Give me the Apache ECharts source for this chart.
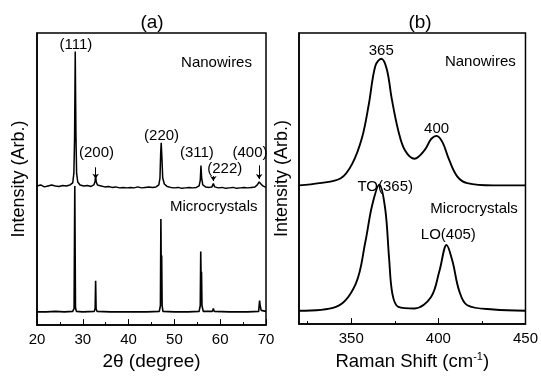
<!DOCTYPE html>
<html><head><meta charset="utf-8">
<script src="https://cdn.jsdelivr.net/npm/echarts@6/dist/echarts.min.js"></script>
<style>html,body{margin:0;padding:0;background:#fff}#c{width:541px;height:376px}</style>
</head><body><div id="c"></div>
<script>
// ---- Data (intensity in arbitrary units) ----
const xrdTicks = [20, 30, 40, 50, 60, 70];
const ramanTicks = [350, 400, 450];
const xrdNanowires = [
 [20,142],[20.8,143],[21.6,141],[22.4,142],[23.2,143],[24,142],[24.8,141.5],[25.6,142.5],[26.4,142],[27.2,143],
 [27.8,145],[28.05,155],[28.2,190],[28.35,279],[28.5,195],[28.65,155],[28.9,146],[29.4,143],[30.2,142],[31,142.5],
 [31.8,141.5],[32.4,143],[32.65,146],[32.8,151.7],[32.95,146],[33.2,143],[34,142],[34.8,141],[35.6,141.5],[36.4,140.5],
 [37.2,141],[38,140],[38.8,140.5],[39.6,140],[40.4,140.5],[41.2,140],[42,141],[42.8,140],[43.6,140.5],[44.4,141],
 [45.2,140.5],[46,141],[46.6,143],[46.85,150],[47.0,175],[47.12,186],[47.28,170],[47.45,150],[47.8,144],[48.4,141.5],
 [49.2,140.5],[50,140],[50.8,140.5],[51.6,139.5],[52.4,140],[53.2,140.5],[54,140],[54.8,140.5],[55.4,142],[55.65,148],
 [55.8,162.7],[55.95,150],[56.2,143],[56.8,141],[57.6,140.5],[58.2,141],[58.5,144.3],[58.8,141],[59.6,140],[60.4,140.5],
 [61.2,139.5],[62,140],[62.8,140.5],[63.6,139.5],[64.4,140],[65.2,140.5],[66,140],[66.8,140.5],[67.6,141],[68.1,143],
 [68.5,146],[68.9,145],[69.3,142],[70,140.5]
];
const xrdMicro = [
 [20,13.5],[22,13.5],[24,14],[26,13.5],[27.8,14],[28.1,17],[28.25,142],[28.4,18],[28.6,14],[30,13.5],
 [32.5,14],[32.7,17],[32.8,45.3],[32.9,17],[33.1,14],[36,13.5],[40,13.5],[44,13.5],[46.7,14],[46.95,20],
 [47.05,108.3],[47.15,40],[47.22,71],[47.32,20],[47.5,14],[50,13.5],[53,13.5],[55.4,14],[55.65,20],[55.75,75],
 [55.85,40],[55.92,54.3],[56.02,20],[56.3,14],[58.3,14],[58.5,17],[58.7,14],[62,13.5],[66,13.5],[68.4,14],
 [68.6,25],[68.72,20],[68.82,22],[68.95,15],[70,14]
];
const ramanNanowires = [
 [320,142],[331.7,144.3],[344,149.3],[350.6,164.3],[356.2,191],[360,224.3],[363.8,264.3],[367.2,271.7],[370.4,261],
 [373.2,231],[377,198],[380.8,178],[386.4,169.3],[392.1,178],[395.8,189.3],[399,192.7],[402.4,186],[406.2,168],
 [410.9,151],[416.6,144.3],[431.6,142],[450,142]
];
const ramanMicro = [
 [320,13.7],[341.2,17.7],[352.5,41],[358.1,84.3],[361.9,121],[366.1,142.7],[369.5,117.7],[371.7,67.7],[373.6,31],
 [377,17.7],[386.4,16],[395.8,27.7],[400.6,54.3],[404.7,81],[408.1,64.3],[411.9,34.3],[416.6,19.3],[431.7,15],[450,13.7]
];
const xrdPeakLabels = [[28.5,286,'(111)'],[33.0,176,'(200)'],[47.2,193,'(220)'],[54.9,176,'(311)'],[61.0,159,'(222)'],[66.5,176,'(400)']];
const xrdSampleLabels = [[59.2,268,'Nanowires'],[58.6,121,'Microcrystals']];
const xrdArrows = [[[32.8,161],[32.8,149.3]],[[58.5,152],[58.5,147]],[[68.5,163],[68.5,149]]];
const ramanPeakLabels = [[367.2,279.3,'365'],[399.0,200,'400'],[369.5,141,'TO(365)'],[405.7,91.7,'LO(405)']];
const ramanSampleLabels = [[424.1,268,'Nanowires'],[420.5,118,'Microcrystals']];

const FONT = 'Liberation Sans, Arial, Helvetica, sans-serif';
const chart = echarts.init(document.getElementById('c'), null, {renderer: 'canvas'});

function textSeries(data, xi, size) {
  return {
    type: 'scatter', xAxisIndex: xi, yAxisIndex: xi,
    data: data, symbolSize: 1, itemStyle: {color: 'rgba(0,0,0,0)'}, silent: true,
    label: {show: true, position: 'inside', formatter: p => p.data[2], color: '#000', opacity: 1,
            fontSize: size, fontFamily: FONT, textBorderWidth: 0},
    emphasis: {disabled: true}, z: 5
  };
}
const yBase = (gi, gap) => ({
  type: 'value', gridIndex: gi, min: 0, max: 298,
  axisLine: {show: true, lineStyle: {color: '#000', width: 1.5}},
  axisTick: {show: false}, axisLabel: {show: false}, splitLine: {show: false},
  name: 'Intensity (Arb.)', nameLocation: 'middle', nameGap: gap,
  nameTextStyle: {fontSize: 18, fontFamily: FONT, color: '#000'}
});

chart.setOption({
  animation: false,
  backgroundColor: '#fff',
  grid: [
    {left: 37, right: 275, top: 33, bottom: 45, show: true, borderColor: '#000', borderWidth: 1.5},
    {left: 299, right: 12, top: 33, bottom: 45, show: true, borderColor: '#000', borderWidth: 1.5}
  ],
  graphic: [
    {type: 'text', x: 152, y: 23, style: {text: '(a)', font: '19px ' + FONT, fill: '#000', textAlign: 'center', textVerticalAlign: 'middle'}},
    {type: 'text', x: 420, y: 23, style: {text: '(b)', font: '19px ' + FONT, fill: '#000', textAlign: 'center', textVerticalAlign: 'middle'}}
  ],
  xAxis: [
    {type: 'value', gridIndex: 0, min: 20, max: 70, interval: 10,
     axisLine: {show: true, lineStyle: {color: '#000', width: 1.5}},
     axisTick: {show: true, inside: true, length: 6, lineStyle: {color: '#000', width: 1}},
     minorTick: {show: true, splitNumber: 2, length: 3, lineStyle: {color: '#000', width: 1}},
     axisLabel: {margin: 7, fontSize: 15, fontFamily: FONT, color: '#000', customValues: xrdTicks},
     splitLine: {show: false},
     name: '2θ (degree)', nameLocation: 'middle', nameGap: 21,
     nameTextStyle: {fontSize: 19, fontFamily: FONT, color: '#000'}},
    {type: 'value', gridIndex: 1, min: 320, max: 450,
     axisLine: {show: true, lineStyle: {color: '#000', width: 1.5}},
     axisTick: {show: true, inside: true, length: 6, lineStyle: {color: '#000', width: 1}, customValues: [350, 400]},
     axisLabel: {margin: 7, fontSize: 15, fontFamily: FONT, color: '#000', customValues: ramanTicks, showMaxLabel: true},
     splitLine: {show: false},
     name: 'Raman Shift (cm{sup|-1})', nameLocation: 'middle', nameGap: 21,
     nameTextStyle: {fontSize: 18.5, fontFamily: FONT, color: '#000',
       rich: {sup: {fontSize: 11, fontFamily: FONT, color: '#000', verticalAlign: 'top', padding: [0, 0, 10, 0]}}}},
    {type: 'value', gridIndex: 1, min: 320, max: 450, position: 'bottom',
     axisLine: {show: false},
     axisTick: {show: true, inside: true, length: 3, lineStyle: {color: '#000', width: 1}, customValues: [325, 375, 425]},
     axisLabel: {show: false}, splitLine: {show: false}}
  ],
  yAxis: [yBase(0, 9), yBase(1, 8)],
  series: [
    {type: 'line', xAxisIndex: 0, yAxisIndex: 0, data: xrdNanowires, showSymbol: false, lineStyle: {color: '#000', width: 1.5}, silent: true},
    {type: 'line', xAxisIndex: 0, yAxisIndex: 0, data: xrdMicro, showSymbol: false, lineStyle: {color: '#000', width: 1.6}, silent: true},
    {type: 'line', xAxisIndex: 1, yAxisIndex: 1, data: ramanNanowires, showSymbol: false, smooth: 0.35, lineStyle: {color: '#000', width: 1.9}, silent: true},
    {type: 'line', xAxisIndex: 1, yAxisIndex: 1, data: ramanMicro, showSymbol: false, smooth: 0.35, lineStyle: {color: '#000', width: 1.9}, silent: true},
    textSeries(xrdPeakLabels, 0, 15),
    textSeries(xrdSampleLabels, 0, 15),
    textSeries(ramanPeakLabels, 1, 15),
    textSeries(ramanSampleLabels, 1, 15),
    {type: 'lines', coordinateSystem: 'cartesian2d', xAxisIndex: 0, yAxisIndex: 0, silent: true,
     data: xrdArrows.map(c => ({coords: c})), symbol: ['none', 'arrow'], symbolSize: 5,
     lineStyle: {color: '#000', width: 1, opacity: 1}}
  ]
});
</script></body></html>
